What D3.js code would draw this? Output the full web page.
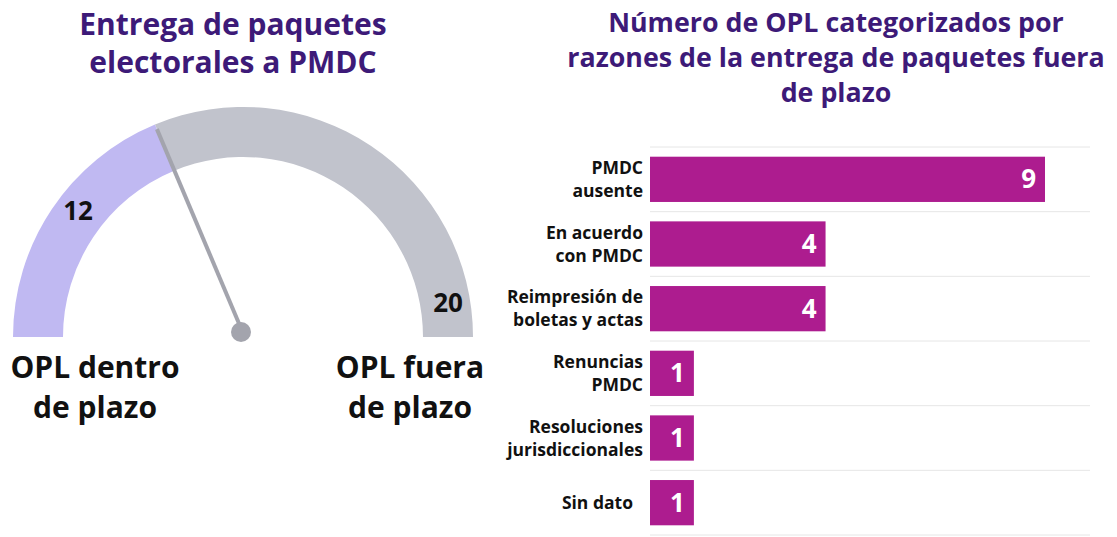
<!DOCTYPE html>
<html>
<head>
<meta charset="utf-8">
<script src="https://cdn.jsdelivr.net/npm/d3@7"></script>
<style>
  body { margin: 0; background: #fff; font-family: "Open Sans", Lato, sans-serif; }
  svg text { font-weight: 700; }
</style>
</head>
<body>
<svg id="chart" width="1117" height="537"></svg>
<script>
// gauge data
const gaugeLabels = ["OPL dentro de plazo", "OPL fuera de plazo"];
const gaugeValues = [12, 20];

// bar data
const reasons = [
  ["PMDC", "ausente"],
  ["En acuerdo", "con PMDC"],
  ["Reimpresión de", "boletas y actas"],
  ["Renuncias", "PMDC"],
  ["Resoluciones", "jurisdiccionales"],
  ["Sin dato"]
];
const reasonCounts = [9, 4, 4, 1, 1, 1];

const titleColor = "#3d1a78";
const svg = d3.select("#chart");

// ---- left: gauge ----
const leftTitle = svg.append("text")
  .attr("x", 233).attr("y", 35)
  .attr("text-anchor", "middle")
  .attr("fill", titleColor)
  .style("font-size", "30px");
leftTitle.append("tspan").attr("x", 233).text("Entrega de paquetes");
leftTitle.append("tspan").attr("x", 233).attr("dy", 38).text("electorales a PMDC");

const cx = 243, cy = 337, rOuter = 230, rInner = 180;
const total = d3.sum(gaugeValues);
const angle = d3.scaleLinear().domain([0, total]).range([-Math.PI / 2, Math.PI / 2]);

const g = svg.append("g").attr("transform", `translate(${cx},${cy})`);
const arc = d3.arc().innerRadius(rInner).outerRadius(rOuter);

g.append("path")
  .attr("d", arc({startAngle: angle(0), endAngle: angle(gaugeValues[0])}))
  .attr("fill", "#c0b9f2");
g.append("path")
  .attr("d", arc({startAngle: angle(gaugeValues[0]), endAngle: angle(total)}))
  .attr("fill", "#c1c3cc");

// needle
const a = angle(gaugeValues[0]);
const needleLen = rOuter - 5;
g.append("line")
  .attr("x1", 0).attr("y1", -4)
  .attr("x2", needleLen * Math.sin(a)).attr("y2", -needleLen * Math.cos(a))
  .attr("stroke", "#a3a4ad").attr("stroke-width", 4);
g.append("circle").attr("cx", -2).attr("cy", -5).attr("r", 10).attr("fill", "#a3a4ad");

// values on the arc
g.append("text")
  .attr("x", -165).attr("y", -117)
  .attr("text-anchor", "middle")
  .style("font-size", "26px").attr("fill", "#111")
  .text(gaugeValues[0]);
g.append("text")
  .attr("x", 205).attr("y", -25)
  .attr("text-anchor", "middle")
  .style("font-size", "26px").attr("fill", "#111")
  .text(gaugeValues[1]);

// gauge end labels
const endLabels = [
  {x: 95, lines: ["OPL dentro", "de plazo"]},
  {x: 410, lines: ["OPL fuera", "de plazo"]}
];
endLabels.forEach((d) => {
  const t = svg.append("text")
    .attr("x", d.x).attr("y", 378)
    .attr("text-anchor", "middle")
    .attr("fill", "#111")
    .style("font-size", "30px");
  d.lines.forEach((l, i) => t.append("tspan").attr("x", d.x).attr("dy", i ? 40 : 0).text(l));
});

// ---- right: bars ----
const rightTitle = svg.append("text")
  .attr("text-anchor", "middle")
  .attr("fill", titleColor)
  .style("font-size", "26.8px");
["Número de OPL categorizados por", "razones de la entrega de paquetes fuera", "de plazo"]
  .forEach((l, i) => rightTitle.append("tspan").attr("x", 836).attr("y", 32 + i * 35).text(l));

const x = d3.scaleLinear().domain([0, 9]).range([650, 1045]);
const y = d3.scaleBand()
  .domain(d3.range(reasons.length))
  .range([147, 535])
  .paddingInner(0.3)
  .paddingOuter(0.15);
const step = y.step();

// row separators
svg.append("g")
  .selectAll("line")
  .data(d3.range(reasons.length + 1))
  .enter()
  .append("line")
  .attr("x1", 650).attr("x2", 1090)
  .attr("y1", (d) => 147 + d * step)
  .attr("y2", (d) => 147 + d * step)
  .attr("stroke", "#e6e6e6").attr("stroke-width", 1);

svg.append("g")
  .selectAll("rect")
  .data(reasonCounts)
  .enter()
  .append("rect")
  .attr("x", x(0))
  .attr("y", (d, i) => y(i))
  .attr("width", (d) => x(d) - x(0))
  .attr("height", y.bandwidth())
  .attr("fill", "#ad1c8f");

svg.append("g")
  .selectAll("text")
  .data(reasonCounts)
  .enter()
  .append("text")
  .attr("x", (d) => x(d) - 9)
  .attr("y", (d, i) => y(i) + y.bandwidth() / 2 + 9)
  .attr("text-anchor", "end")
  .attr("fill", "#fff")
  .style("font-size", "26px")
  .text((d) => d);

// category labels
reasons.forEach((lines, i) => {
  const mid = y(i) + y.bandwidth() / 2;
  const t = svg.append("text")
    .attr("text-anchor", "end")
    .attr("fill", "#111")
    .style("font-size", "17.5px");
  lines.forEach((l, j) => {
    t.append("tspan")
      .attr("x", lines.length > 1 ? 643 : 633)
      .attr("y", mid + 6 + (j - (lines.length - 1) / 2) * 23)
      .text(l);
  });
});
</script>
</body>
</html>
